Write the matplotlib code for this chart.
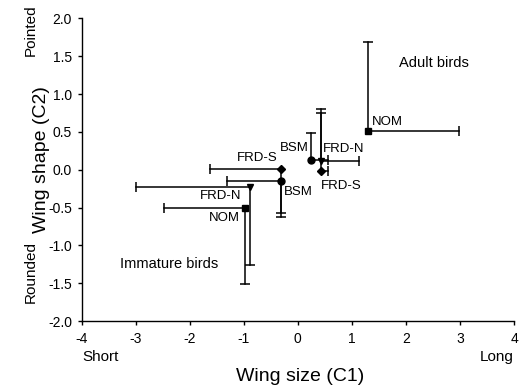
import numpy as np
import matplotlib
matplotlib.use("Agg")
import matplotlib.pyplot as plt

plt.rcParams['font.family'] = ['Liberation Sans', 'DejaVu Sans']
plt.rcParams['axes.unicode_minus'] = False

# datos: media y extremo de la barra de error (adultos hacia arriba/derecha, inmaduros hacia abajo/izquierda)
grupos = ["NOM", "BSM", "FRD-N", "FRD-S"]
marcadores = ["s", "o", "v", "D"]

adulto_x = [1.30, 0.25, 0.43, 0.43]
adulto_y = [0.51, 0.13, 0.11, -0.02]
adulto_x_fin = [2.99, 0.55, 1.14, 0.55]
adulto_y_fin = [1.69, 0.48, 0.80, 0.75]

inmaduro_x = [-0.98, -0.31, -0.89, -0.32]
inmaduro_y = [-0.50, -0.15, -0.23, 0.01]
inmaduro_x_fin = [-2.48, -1.31, -2.99, -1.63]
inmaduro_y_fin = [-1.51, -0.63, -1.26, -0.57]

# desplazamiento de las etiquetas (pixeles) y alineacion
etq_adulto = [(4, 9, "left"), (-3, 12, "right"), (2, 12, "left"), (0, -15, "left")]
etq_inmaduro = [(-5, -10, "right"), (3, -11, "left"), (-8, -9, "right"), (-3, 11, "right")]

fig = plt.figure(figsize=(5.19, 3.90), dpi=100)
ax = fig.add_axes([0.1574, 0.1769, 0.833, 0.776])

lw = 1.1
cap = 6.5


def dibujar(xs, ys, xf, yf, etqs):
    for i in range(len(xs)):
        x, y = xs[i], ys[i]
        ax.plot([x, xf[i]], [y, y], color="black", lw=lw, zorder=2)
        ax.plot([x, x], [y, yf[i]], color="black", lw=lw, zorder=2)
        ax.plot(xf[i], y, marker="|", ms=cap, mew=lw, color="black", zorder=2)
        ax.plot(x, yf[i], marker="_", ms=cap, mew=lw, color="black", zorder=2)
        ms = {"s": 4.3, "o": 5, "v": 4.5, "D": 4.3}[marcadores[i]]
        ax.plot(x, y, marker=marcadores[i], ms=ms, color="black", zorder=3)
        dx, dy, ha = etqs[i]
        ax.annotate(grupos[i], (x, y), xytext=(dx, dy), textcoords="offset pixels",
                    ha=ha, va="center", fontsize=9.5)


dibujar(adulto_x, adulto_y, adulto_x_fin, adulto_y_fin, etq_adulto)
dibujar(inmaduro_x, inmaduro_y, inmaduro_x_fin, inmaduro_y_fin, etq_inmaduro)

ax.text(2.51, 1.405, "Adult birds", ha="center", va="center", fontsize=10.5)
ax.text(-2.38, -1.24, "Immature birds", ha="center", va="center", fontsize=10.5)

ax.set_xlim(-4, 4)
ax.set_ylim(-2, 2)
ax.set_xticks(np.arange(-4, 5, 1))
ax.set_yticks(np.arange(-2, 2.01, 0.5))
ax.set_yticklabels([f"{v:.1f}" for v in np.arange(-2, 2.01, 0.5)])
ax.spines["top"].set_visible(False)
ax.spines["right"].set_visible(False)
ax.spines["left"].set_linewidth(1.0)
ax.spines["bottom"].set_linewidth(1.0)
ax.tick_params(direction="out", length=3, width=1.0, labelsize=10)
ax.tick_params(axis="x", pad=5)
ax.tick_params(axis="y", pad=4)

W, H = 519, 390
fig.text(82.7 / W, 1 - 356.7 / H, "Short", ha="left", va="center", fontsize=11)
fig.text(514 / W, 1 - 356.7 / H, "Long", ha="right", va="center", fontsize=11)
fig.text(300 / W, 1 - 376.7 / H, "Wing size (C1)", ha="center", va="center", fontsize=14)
fig.text(41.5 / W, 1 - 160 / H, "Wing shape (C2)", ha="center", va="center", rotation=90, fontsize=14)
fig.text(31 / W, 1 - 272 / H, "Rounded", ha="center", va="center", rotation=90, fontsize=11)
fig.text(31 / W, 1 - 30 / H, "Pointed", ha="center", va="center", rotation=90, fontsize=11)

fig.savefig("out.png", dpi=100)
